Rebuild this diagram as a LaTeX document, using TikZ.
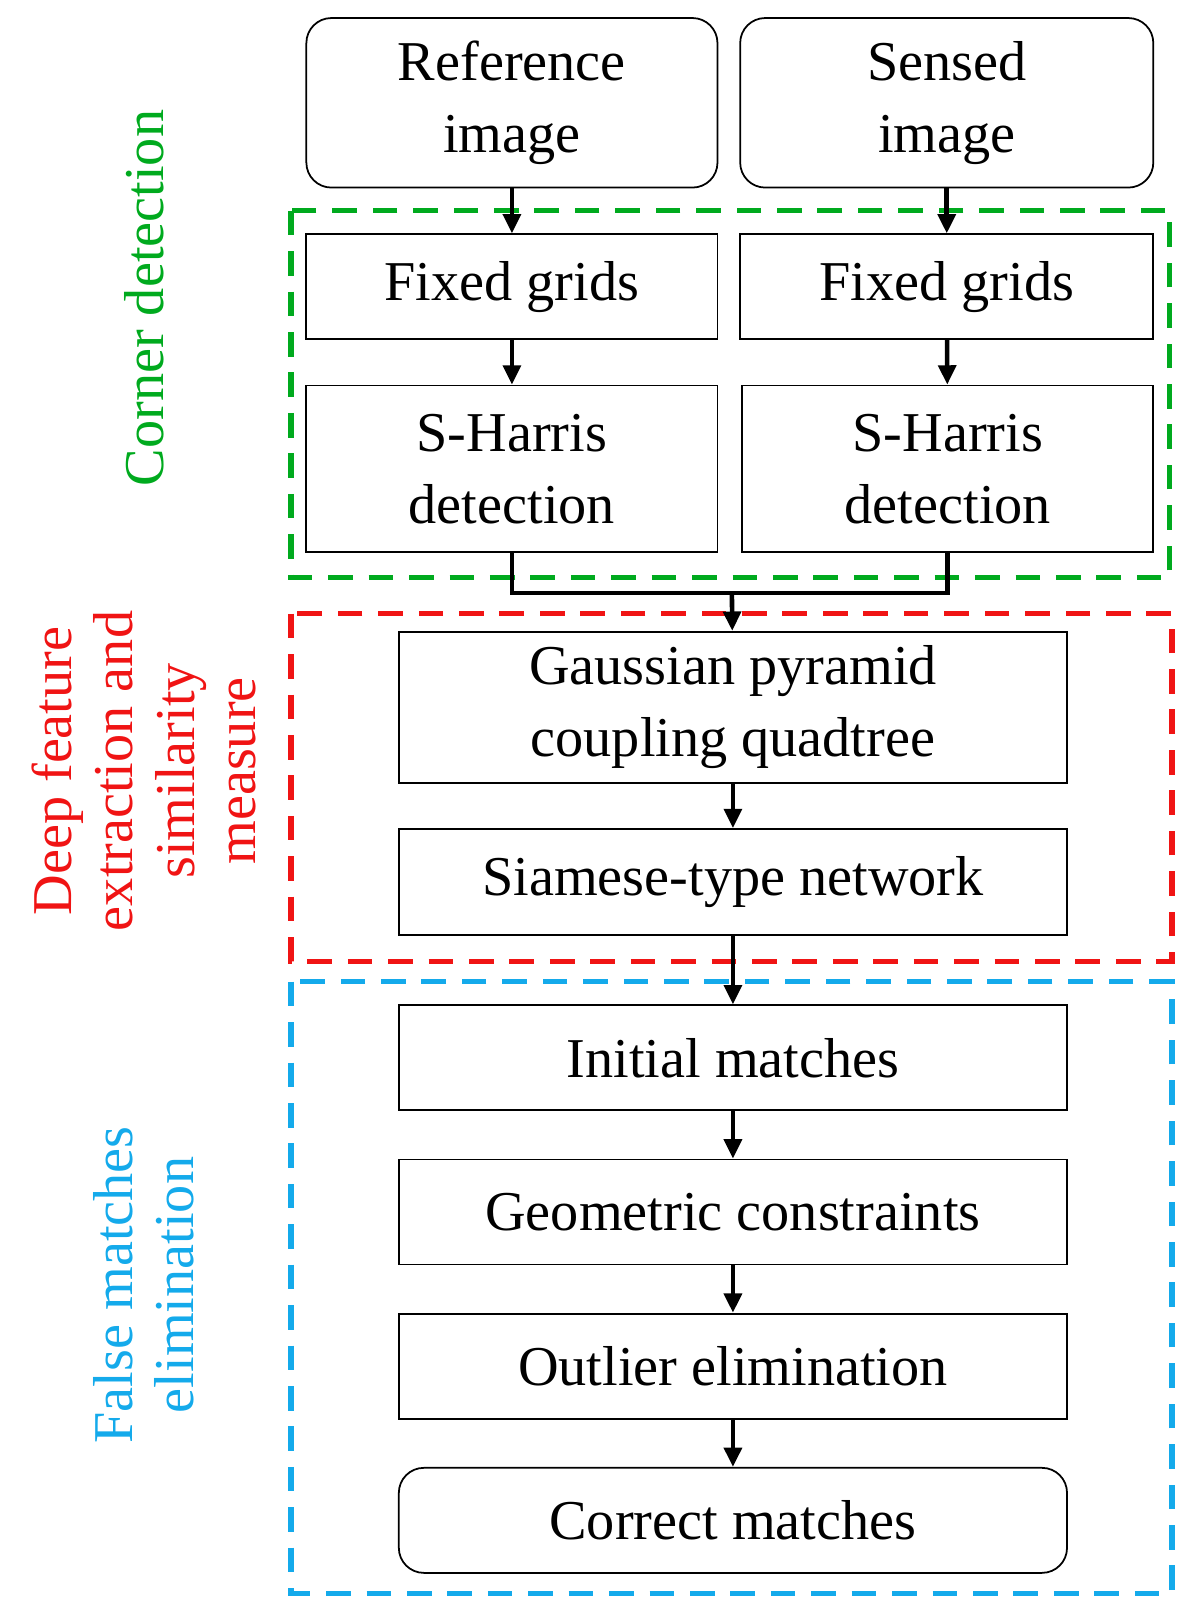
\documentclass[tikz,border=0pt]{standalone}
\usepackage{fontspec}
\setmainfont{Liberation Serif}
\usetikzlibrary{arrows.meta}
\definecolor{cgreen}{RGB}{0,170,30}
\definecolor{cred}{RGB}{240,20,20}
\definecolor{cblue}{RGB}{20,170,235}
\begin{document}
\begin{tikzpicture}[
    x=0.02056cm, y=-0.02056cm,
    box/.style={rectangle, draw, line width=1pt, align=center, font=\fontsize{32}{41}\selectfont},
    wide/.style={box, minimum width=13.36cm},
    rbox/.style={box, rounded corners=0.5cm},
    arrow/.style={-{Triangle[length=11pt,width=10pt]}, line width=2.6pt},
    zone/.style={dashed, line width=3pt, dash pattern=on 14pt off 9pt},
    tag/.style={rotate=90, align=center, font=\fontsize{32}{35}\selectfont}
]
\useasboundingbox (0,0) rectangle (1160,1574);

% Zones
\draw[zone, cgreen] (283,205) rectangle (1138,562);
\draw[zone, cred] (283,597) rectangle (1140,935);
\draw[zone, cblue] (283,955) rectangle (1140,1550);
\node[tag, text=cgreen] (lcorner) at (140,290) {Corner detection};
\node[tag, text=cred] (ldeep) at (140,750) {Deep feature\\extraction and\\similarity\\measure};
\node[tag, text=cblue] (lfalse) at (140,1250) {False matches\\elimination};

% Inputs
\node[rbox, minimum width=8.22cm, minimum height=3.39cm] (ref) at (498,100) {Reference\\image};
\node[rbox, minimum width=8.26cm, minimum height=3.39cm] (sen) at (921,100) {Sensed\\image};

% Corner detection
\node[box, minimum width=8.22cm, minimum height=2.10cm] (fg1) at (498,279) {Fixed grids};
\node[box, minimum width=8.26cm, minimum height=2.10cm] (fg2) at (921,279) {Fixed grids};
\node[box, minimum width=8.22cm, minimum height=3.33cm] (sh1) at (498,456) {S-Harris\\detection};
\node[box, minimum width=8.22cm, minimum height=3.33cm] (sh2) at (922,456) {S-Harris\\detection};
\coordinate (m) at (712,577);

% Deep features
\node[wide, minimum height=3.02cm] (gp) at (713,688) {Gaussian pyramid\\coupling quadtree};
\node[wide, minimum height=2.12cm] (sn) at (713,858) {Siamese-type network};

% False matches
\node[wide, minimum height=2.10cm] (im) at (713,1029) {Initial matches};
\node[wide, minimum height=2.10cm] (gc) at (713,1179) {Geometric constraints};
\node[wide, minimum height=2.10cm] (oe) at (713,1329) {Outlier elimination};
\node[wide, rbox, minimum height=2.10cm] (cm) at (713,1479) {Correct matches};

% Arrows
\draw[arrow] (ref) -- (fg1);
\draw[arrow] (sen) -- (fg2);
\draw[arrow] (fg1) -- (sh1);
\draw[arrow] (fg2) -- (sh2);
\draw[line width=2.6pt] (sh1.south) |- (m) -| (sh2.south);
\draw[arrow] (m) -- (gp);
\draw[arrow] (gp) -- (sn);
\draw[arrow] (sn) -- (im);
\draw[arrow] (im) -- (gc);
\draw[arrow] (gc) -- (oe);
\draw[arrow] (oe) -- (cm);
\end{tikzpicture}
\end{document}
